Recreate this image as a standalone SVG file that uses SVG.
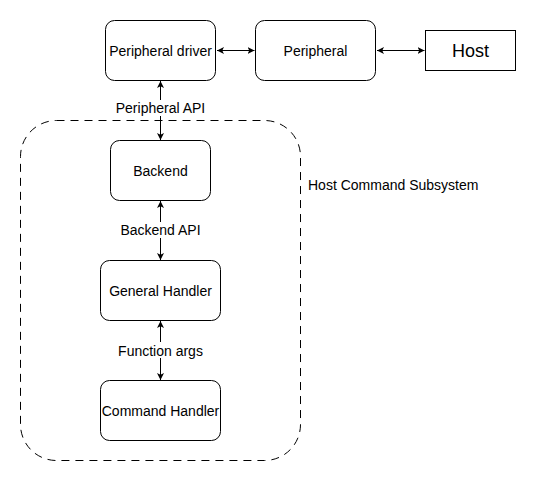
<svg xmlns="http://www.w3.org/2000/svg" width="536" height="481" viewBox="0 0 536 481">
<defs>
<style>
.box{fill:#fff;stroke:#000;stroke-width:1}
.t{font-family:"Liberation Sans",Arial,sans-serif;font-size:14px;fill:#000;text-anchor:middle}
.edge{stroke:#000;stroke-width:1;fill:none}
</style>
<marker id="ah" viewBox="0 0 10 10" refX="10" refY="5" markerWidth="7" markerHeight="7" orient="auto-start-reverse" markerUnits="userSpaceOnUse">
<path d="M0,0 L10,5 L0,10 L2.5,5 Z" fill="#000"/>
</marker>
</defs>
<rect width="536" height="481" fill="#fff"/>
<g id="subsystem">
<rect x="20.5" y="120.5" width="280" height="340" rx="36" ry="36" fill="none" stroke="#000" stroke-dasharray="8,6"/>
<text class="t" x="308" y="190" style="text-anchor:start">Host Command Subsystem</text>
</g>
<g id="connectors">
<line class="edge" x1="217" y1="50.5" x2="254.5" y2="50.5" marker-start="url(#ah)" marker-end="url(#ah)"/>
<line class="edge" x1="377" y1="50.5" x2="424.5" y2="50.5" marker-start="url(#ah)" marker-end="url(#ah)"/>
<line class="edge" x1="160.5" y1="81" x2="160.5" y2="140" marker-start="url(#ah)" marker-end="url(#ah)"/>
<line class="edge" x1="160.5" y1="201" x2="160.5" y2="260" marker-start="url(#ah)" marker-end="url(#ah)"/>
<line class="edge" x1="160.5" y1="321" x2="160.5" y2="380" marker-start="url(#ah)" marker-end="url(#ah)"/>
<rect x="112" y="100" width="98" height="16" fill="#fff"/>
<text class="t" x="160.5" y="113">Peripheral API</text>
<rect x="118" y="222" width="86" height="16" fill="#fff"/>
<text class="t" x="160.5" y="235">Backend API</text>
<rect x="116" y="342" width="90" height="16" fill="#fff"/>
<text class="t" x="160.5" y="356">Function args</text>
</g>
<g id="peripheral-driver">
<rect class="box" x="105.5" y="20.5" width="110" height="60" rx="9"/>
<text class="t" x="160.5" y="55.5">Peripheral driver</text>
</g>
<g id="peripheral">
<rect class="box" x="255.5" y="20.5" width="120" height="60" rx="9"/>
<text class="t" x="315.5" y="55.5">Peripheral</text>
</g>
<g id="host">
<rect class="box" x="425.5" y="30.5" width="90" height="40"/>
<text class="t" x="470.5" y="56.5" style="font-size:18px">Host</text>
</g>
<g id="backend">
<rect class="box" x="110.5" y="140.5" width="100" height="60" rx="9"/>
<text class="t" x="160.5" y="175.5">Backend</text>
</g>
<g id="general-handler">
<rect class="box" x="100.5" y="260.5" width="120" height="60" rx="9"/>
<text class="t" x="160.5" y="295.5">General Handler</text>
</g>
<g id="command-handler">
<rect class="box" x="100.5" y="380.5" width="120" height="60" rx="9"/>
<text class="t" x="160.5" y="415.5">Command Handler</text>
</g>
</svg>
